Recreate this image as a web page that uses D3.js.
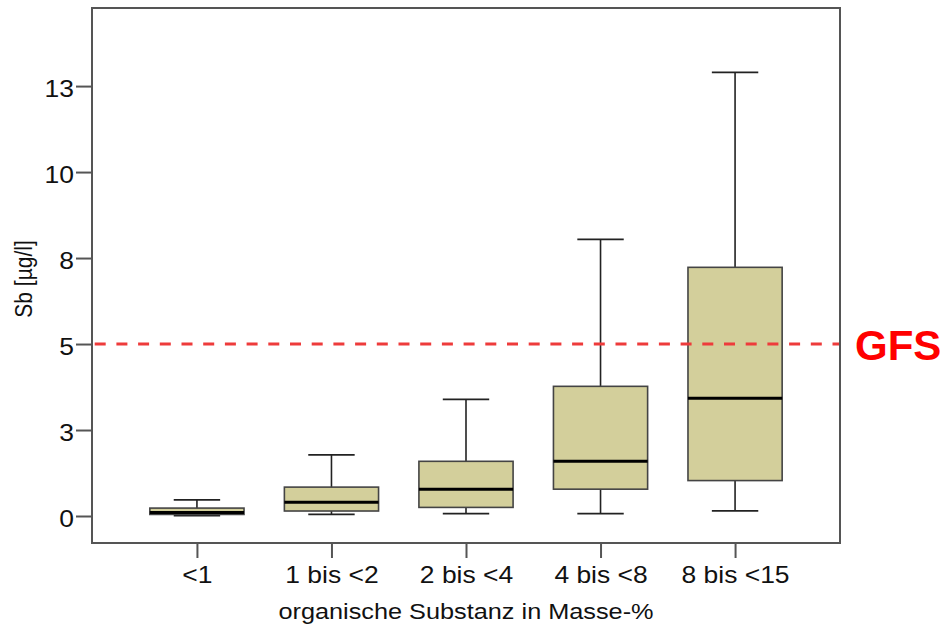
<!DOCTYPE html>
<html>
<head>
<meta charset="utf-8">
<script src="https://cdn.jsdelivr.net/npm/d3@7"></script>
<style>
  html, body { margin: 0; padding: 0; background: #fff; }
  svg { display: block; }
  text { font-family: "Liberation Sans", Arial, sans-serif; }
</style>
</head>
<body>
<svg id="chart" width="947" height="627"></svg>
<script>
// Sb concentrations by organic matter class (box plot summaries, µg/l)
const categories  = ["<1", "1 bis <2", "2 bis <4", "4 bis <8", "8 bis <15"];
const whiskerLow  = [0.015, 0.05, 0.07, 0.07, 0.15];
const quartile1   = [0.045, 0.145, 0.25, 0.78, 1.03];
const medians     = [0.10, 0.40, 0.78, 1.59, 3.42];
const quartile3   = [0.23, 0.84, 1.59, 3.77, 7.23];
const whiskerHigh = [0.47, 1.78, 3.39, 8.04, 12.90];

const yTickValues = [0, 2.5, 5, 7.5, 10, 12.5];
const yTickLabels = ["0", "3", "5", "8", "10", "13"];

const gfsValue = 5;
const gfsLabel = "GFS";
const xTitle = "organische Substanz in Masse-%";
const yTitle = "Sb [µg/l]";

const frame = { left: 92, top: 8, right: 840, bottom: 543 };
const SX = 1.15; // horizontal glyph stretch of the axis texts

const svg = d3.select("#chart");

const x = d3.scalePoint()
  .domain(categories)
  .range([frame.left, frame.right])
  .padding(0.78);

const y = d3.scaleLinear()
  .domain([-0.785, 14.77])
  .range([frame.bottom, frame.top]);

const step = x.step();
const boxW = step * 0.70;
const capW = step * 0.345;

const rows = categories.map((c, i) => ({
  cat: c, lo: whiskerLow[i], q1: quartile1[i], med: medians[i],
  q3: quartile3[i], hi: whiskerHigh[i]
}));

function stretch(sel, k) {
  sel.each(function () {
    const t = d3.select(this);
    const x0 = +t.attr("x") || 0;
    t.attr("x", x0 / k).attr("transform", `scale(${k},1)`);
  });
}

// axes
const yAxis = svg.append("g")
  .attr("transform", `translate(${frame.left},0)`)
  .call(d3.axisLeft(y).tickValues(yTickValues)
    .tickFormat((d, i) => yTickLabels[i]).tickSize(16).tickPadding(2));
yAxis.select(".domain").remove();
yAxis.selectAll(".tick line").attr("stroke", "#555").attr("stroke-width", 2);
yAxis.selectAll(".tick text")
  .attr("font-size", 23).attr("fill", "#111").attr("dy", "0.47em")
  .style("font-family", "'Liberation Sans', Arial, sans-serif")
  .call(stretch, SX);

const xAxis = svg.append("g")
  .attr("transform", `translate(0,${frame.bottom})`)
  .call(d3.axisBottom(x).tickSize(15).tickPadding(9));
xAxis.select(".domain").remove();
xAxis.selectAll(".tick line").attr("stroke", "#555").attr("stroke-width", 2);
xAxis.selectAll(".tick text")
  .attr("font-size", 23).attr("fill", "#111")
  .style("font-family", "'Liberation Sans', Arial, sans-serif")
  .call(stretch, SX);

// whiskers
const g = svg.append("g");
g.selectAll("line.stem")
  .data(rows).join("line")
  .attr("class", "stem")
  .attr("x1", d => x(d.cat)).attr("x2", d => x(d.cat))
  .attr("y1", d => y(d.hi)).attr("y2", d => y(d.lo))
  .attr("stroke", "#222").attr("stroke-width", 1.6);

g.selectAll("line.capHi")
  .data(rows).join("line")
  .attr("class", "capHi")
  .attr("x1", d => x(d.cat) - capW / 2).attr("x2", d => x(d.cat) + capW / 2)
  .attr("y1", d => y(d.hi)).attr("y2", d => y(d.hi))
  .attr("stroke", "#222").attr("stroke-width", 1.8);

g.selectAll("line.capLo")
  .data(rows).join("line")
  .attr("class", "capLo")
  .attr("x1", d => x(d.cat) - capW / 2).attr("x2", d => x(d.cat) + capW / 2)
  .attr("y1", d => y(d.lo)).attr("y2", d => y(d.lo))
  .attr("stroke", "#222").attr("stroke-width", 1.8);

// boxes
g.selectAll("rect.box")
  .data(rows).join("rect")
  .attr("class", "box")
  .attr("x", d => x(d.cat) - boxW / 2)
  .attr("width", boxW)
  .attr("y", d => y(d.q3))
  .attr("height", d => y(d.q1) - y(d.q3))
  .attr("fill", "#d3cf9b")
  .attr("stroke", "#444").attr("stroke-width", 1.6);

// medians
g.selectAll("line.med")
  .data(rows).join("line")
  .attr("class", "med")
  .attr("x1", d => x(d.cat) - boxW / 2).attr("x2", d => x(d.cat) + boxW / 2)
  .attr("y1", d => y(d.med)).attr("y2", d => y(d.med))
  .attr("stroke", "#000").attr("stroke-width", 3);

// reference threshold line
svg.append("line")
  .attr("x1", frame.left).attr("x2", frame.right)
  .attr("y1", y(gfsValue)).attr("y2", y(gfsValue))
  .attr("stroke", "#ee3b3b").attr("stroke-width", 3)
  .attr("stroke-dasharray", "11,10.7")
  .attr("stroke-dashoffset", 19);

// plot frame
svg.append("rect")
  .attr("x", frame.left).attr("y", frame.top)
  .attr("width", frame.right - frame.left)
  .attr("height", frame.bottom - frame.top)
  .attr("fill", "none").attr("stroke", "#555").attr("stroke-width", 2);

// threshold label
svg.append("text")
  .attr("x", 855).attr("y", y(gfsValue) + 16)
  .attr("font-size", 42).attr("font-weight", "bold")
  .attr("fill", "#ff0000")
  .text(gfsLabel);

// axis titles
svg.append("text")
  .attr("x", (frame.left + frame.right) / 2 / SX).attr("y", 619)
  .attr("transform", `scale(${SX},1)`)
  .attr("text-anchor", "middle")
  .attr("font-size", 22).attr("fill", "#111")
  .text(xTitle);

svg.append("text")
  .attr("transform", `translate(31.5,279) scale(1.12,1) rotate(-90)`)
  .attr("text-anchor", "middle")
  .attr("font-size", 21).attr("fill", "#111")
  .text(yTitle);
</script>
</body>
</html>
